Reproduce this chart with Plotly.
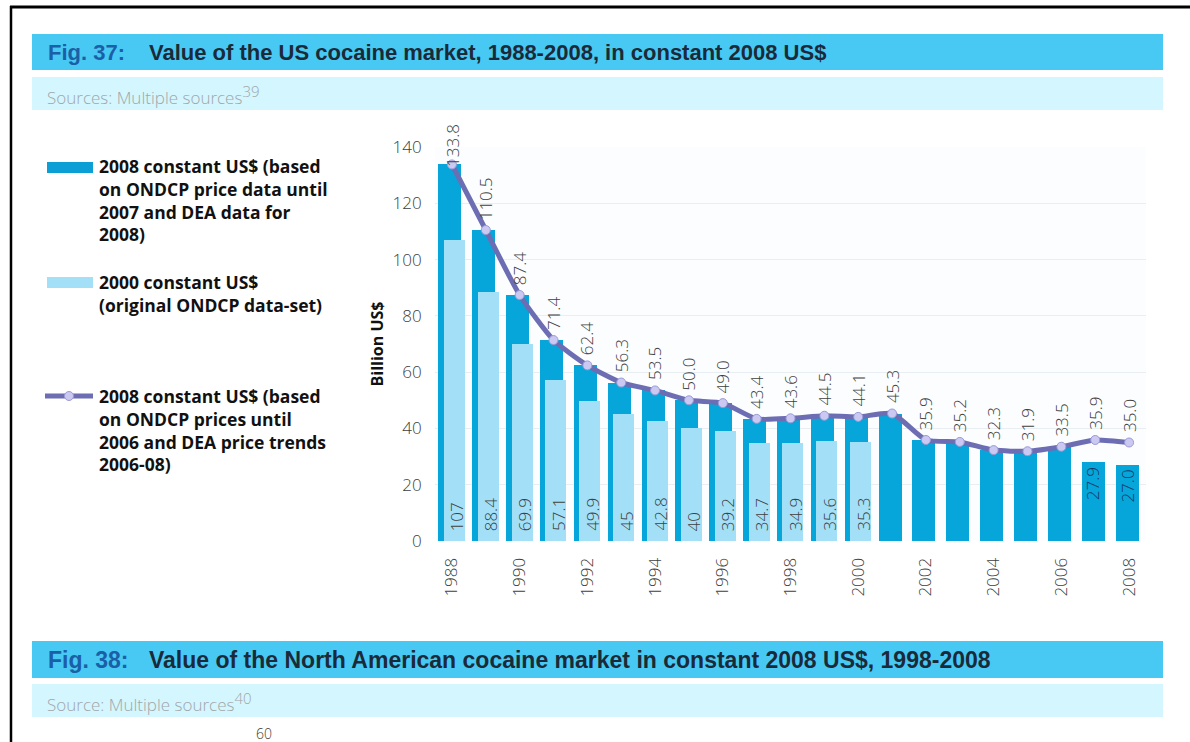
import plotly.graph_objects as go

# ---------------- data ----------------
years = list(range(1988, 2009))
line_2008_ondcp_dea = [133.8, 110.5, 87.4, 71.4, 62.4, 56.3, 53.5, 50.0, 49.0, 43.4, 43.6,
                       44.5, 44.1, 45.3, 35.9, 35.2, 32.3, 31.9, 33.5, 35.9, 35.0]
bars_2008_const = [133.8, 110.5, 87.4, 71.4, 62.4, 56.3, 53.5, 50.0, 49.0, 43.4, 43.6,
                   44.5, 44.1, 45.3, 35.9, 35.2, 32.3, 31.9, 33.5, 27.9, 27.0]
bars_2000_const = [107, 88.4, 69.9, 57.1, 49.9, 45, 42.8, 40, 39.2, 34.7, 34.9, 35.6, 35.3,
                   None, None, None, None, None, None, None, None]
x_tick_years = list(range(1988, 2009, 2))
y_ticks = [0, 20, 40, 60, 80, 100, 120, 140]

legend_bar_2008 = "2008 constant US$ (based<br>on ONDCP price data until<br>2007 and DEA data for<br>2008)"
legend_bar_2000 = "2000 constant US$<br>(original ONDCP data-set)"
legend_line = "2008 constant US$ (based<br>on ONDCP prices until<br>2006 and DEA price trends<br>2006-08)"

# ---------------- style ----------------
W, H = 1190, 742
ML, MR, MT, MB = 435, 44, 147, 201
PW, PH = W - ML - MR, H - MT - MB

DARK = "#06a6da"
LIGHT = "#a3e0f8"
LINE = "#6c6db3"
MARK = "#cbc9f2"
THIN = dict(family="Open Sans, Lato, sans-serif", size=17, color="#404040", weight=300)


def px(x):
    return (x - ML) / PW


def py(y):
    return (H - MB - y) / PH


fig = go.Figure()

fig.add_trace(go.Bar(
    x=years, y=bars_2008_const, name="2008 constant US$", marker_color=DARK,
    marker_line_width=0, width=0.68, offset=-0.4, showlegend=False))
fig.add_trace(go.Bar(
    x=years, y=bars_2000_const, name="2000 constant US$", marker_color=LIGHT,
    marker_line_width=0, width=0.62, offset=-0.24, showlegend=False))
fig.add_trace(go.Scatter(
    x=years, y=line_2008_ondcp_dea, mode="lines+markers", name="2008 constant US$ line",
    line=dict(color=LINE, width=5, shape="spline", smoothing=0.6),
    marker=dict(size=9, color=MARK, line=dict(color="#9b9ad6", width=1)),
    showlegend=False, cliponaxis=False))

annotations = []
LABEL_TOP = 129.5
# line value labels
for yr, v in zip(years, line_2008_ondcp_dea):
    annotations.append(dict(x=yr, y=min(v, LABEL_TOP), xref="x", yref="y", text=f"{v:.1f}",
                            textangle=-90, showarrow=False, xanchor="center", yanchor="bottom",
                            yshift=8, font=THIN))
# light bar labels at base
for yr, v in zip(years, bars_2000_const):
    if v is None:
        continue
    annotations.append(dict(x=yr, y=0, xref="x", yref="y", text=f"{v:g}", xshift=5,
                            textangle=-90, showarrow=False, xanchor="center", yanchor="bottom",
                            yshift=8, font=THIN))
# dark bar labels where they differ from the line
for yr, v, l in zip(years, bars_2008_const, line_2008_ondcp_dea):
    if abs(v - l) > 0.05:
        annotations.append(dict(x=yr, y=v, xref="x", yref="y", text=f"{v:.1f}", xshift=-2,
                                textangle=-90, showarrow=False, xanchor="center", yanchor="top",
                                yshift=-3, font=dict(THIN, color="#17386a")))

shapes = []
# page frame
shapes.append(dict(type="line", xref="paper", yref="paper", x0=px(10), x1=px(1192), y0=py(7), y1=py(7),
                   line=dict(color="black", width=3)))
shapes.append(dict(type="line", xref="paper", yref="paper", x0=px(11), x1=px(11), y0=py(6), y1=py(745),
                   line=dict(color="black", width=2.5)))
# header bands
for top, bot, col in [(34, 70, "#47c9f3"), (77, 110, "#d4f6fe"), (641, 678, "#47c9f3"), (684, 717, "#d4f6fe")]:
    shapes.append(dict(type="rect", xref="paper", yref="paper", x0=px(32), x1=px(1163),
                       y0=py(bot), y1=py(top), fillcolor=col, line=dict(width=0), layer="below"))
# legend swatches
shapes.append(dict(type="rect", xref="paper", yref="paper", x0=px(47), x1=px(93), y0=py(173), y1=py(162),
                   fillcolor="#0c9fd6", line=dict(width=0)))
shapes.append(dict(type="rect", xref="paper", yref="paper", x0=px(47), x1=px(93), y0=py(288), y1=py(277),
                   fillcolor=LIGHT, line=dict(width=0)))
shapes.append(dict(type="line", xref="paper", yref="paper", x0=px(45), x1=px(93), y0=py(396), y1=py(396),
                   line=dict(color=LINE, width=5)))
shapes.append(dict(type="circle", xref="paper", yref="paper", x0=px(64.5), x1=px(73.5), y0=py(400.5),
                   y1=py(391.5), fillcolor=MARK, line=dict(color="#9b9ad6", width=1)))

LEG = dict(family="Open Sans, Noto Sans, sans-serif", size=17.5, color="#111111", weight=700)
for txt, top in [(legend_bar_2008, 152), (legend_bar_2000, 268), (legend_line, 382)]:
    annotations.append(dict(x=px(97), y=py(top), xref="paper", yref="paper", text=txt, align="left",
                            showarrow=False, xanchor="left", yanchor="top", font=LEG))

TITLE = dict(family="Liberation Sans, Arial, sans-serif", size=22, color="#1b2a38", weight=700)
SRC = dict(family="Open Sans, sans-serif", size=17, color="#a0a6aa", weight=300)
annotations += [
    dict(x=px(46), y=py(52), xref="paper", yref="paper", text="Fig. 37:", showarrow=False,
         xanchor="left", yanchor="middle", font=dict(TITLE, color="#1b5fa6")),
    dict(x=px(147), y=py(52), xref="paper", yref="paper",
         text="Value of the US cocaine market, 1988-2008, in constant 2008 US$", showarrow=False,
         xanchor="left", yanchor="middle", font=TITLE),
    dict(x=px(45), y=py(95), xref="paper", yref="paper",
         text="Sources: Multiple sources<sup><span style='font-size:15px'>39</span></sup>",
         showarrow=False, xanchor="left", yanchor="middle", font=SRC),
    dict(x=px(46), y=py(660), xref="paper", yref="paper", text="Fig. 38:", showarrow=False,
         xanchor="left", yanchor="middle", font=dict(TITLE, size=23, color="#1b5fa6")),
    dict(x=px(147), y=py(660), xref="paper", yref="paper",
         text="Value of the North American cocaine market in constant 2008 US$, 1998-2008", showarrow=False,
         xanchor="left", yanchor="middle", font=dict(TITLE, size=23)),
    dict(x=px(45), y=py(702), xref="paper", yref="paper",
         text="Source: Multiple sources<sup><span style='font-size:15px'>40</span></sup>",
         showarrow=False, xanchor="left", yanchor="middle", font=SRC),
    dict(x=px(254), y=py(722), xref="paper", yref="paper", text="60",
         showarrow=False, xanchor="left", yanchor="top", font=dict(THIN, size=14)),
]

fig.update_layout(
    width=W, height=H, autosize=False,
    margin=dict(l=ML, r=MR, t=MT, b=MB, pad=0),
    paper_bgcolor="white", plot_bgcolor="#fbfdff",
    barmode="overlay", bargap=0,
    showlegend=False,
    shapes=shapes, annotations=annotations,
    xaxis=dict(range=[1987.5, 2008.5], tickvals=x_tick_years, ticktext=[str(y) for y in x_tick_years],
               tickangle=-90, tickfont=THIN, showgrid=False, zeroline=False, showline=False,
               ticks="outside", ticklen=9, tickcolor="rgba(0,0,0,0)"),
    yaxis=dict(range=[0, 140], tickvals=y_ticks, tickfont=THIN, showgrid=True, gridcolor="#e9eef2",
               gridwidth=1, zeroline=False, showline=False, ticks="outside", ticklen=9,
               tickcolor="rgba(0,0,0,0)",
               title=dict(text="Billion US$", standoff=4,
                          font=dict(family="Open Sans, sans-serif", size=16, color="#111111", weight=700))),
)

fig.write_html("out.html")
